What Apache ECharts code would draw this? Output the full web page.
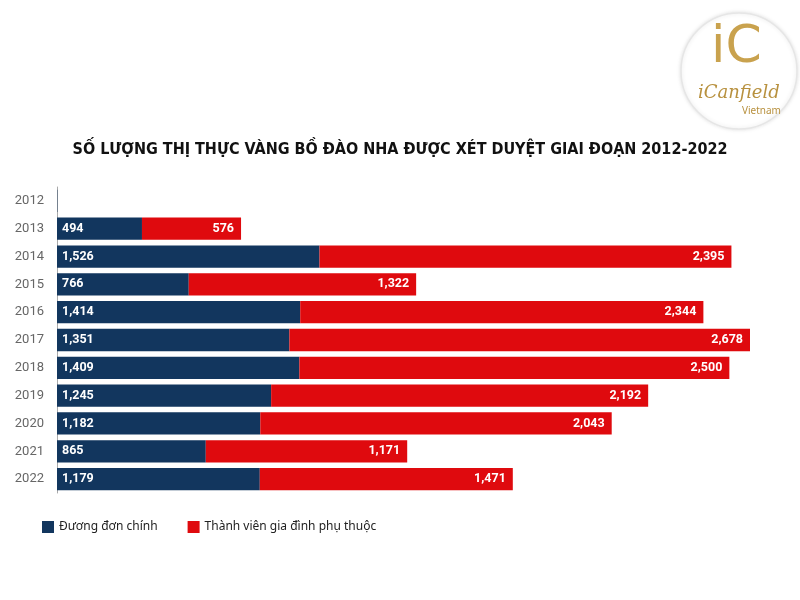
<!DOCTYPE html>
<html><head><meta charset="utf-8">
<script src="https://cdn.jsdelivr.net/npm/echarts@6/dist/echarts.min.js"></script>
<style>html,body{margin:0;padding:0;background:#fff}#c{width:800px;height:600px}</style>
</head><body><div id="c"></div>
<script>
const years = ['2012','2013','2014','2015','2016','2017','2018','2019','2020','2021','2022'];
const mainApplicants = [2, 494, 1526, 766, 1414, 1351, 1409, 1245, 1182, 865, 1179];
const familyMembers = [0, 576, 2395, 1322, 2344, 2678, 2500, 2192, 2043, 1171, 1471];
const seriesNames = ['Đương đơn chính', 'Thành viên gia đình phụ thuộc'];
const titleText = 'SỐ LƯỢNG THỊ THỰC VÀNG BỒ ĐÀO NHA ĐƯỢC XÉT DUYỆT GIAI ĐOẠN 2012-2022';

const fmt = v => v.toLocaleString('en-US');
const chart = echarts.init(document.getElementById('c'));
const labelStyle = {color:'#fff', fontWeight:'bold', fontSize:12.5, fontFamily:'Roboto, sans-serif'};
chart.setOption({
  animation:false,
  title:{text:titleText, left:'center', top:137,
    textStyle:{fontFamily:'"DejaVu Sans Condensed", sans-serif', fontWeight:'bold', fontSize:16, color:'#111'}},
  legend:{left:37, top:516, itemWidth:12, itemHeight:12, itemGap:30, icon:'rect',
    textStyle:{fontFamily:'"Noto Sans", sans-serif', fontSize:12, color:'#222'}},
  grid:{left:57, right:50, top:187, bottom:107},
  xAxis:{type:'value', min:0, max:4029, show:false},
  yAxis:{type:'category', data:years, inverse:true,
    axisLine:{show:true, lineStyle:{color:'#aaa', width:1}}, axisTick:{show:false},
    axisLabel:{color:'#666', fontSize:13, fontFamily:'Roboto, sans-serif', margin:13}},
  series:[
    {name:seriesNames[0], type:'bar', stack:'t', data:mainApplicants, barCategoryGap:'20%',
     itemStyle:{color:'#12365e'},
     label:{show:true, position:'insideLeft', distance:5, ...labelStyle,
       formatter:p=>p.value>50?fmt(p.value):''}},
    {name:seriesNames[1], type:'bar', stack:'t', data:familyMembers,
     itemStyle:{color:'#df0a0e'},
     label:{show:true, position:'insideRight', distance:7, ...labelStyle,
       formatter:p=>p.value>50?fmt(p.value):''}}
  ],
  graphic:[
    {type:'circle', shape:{cx:739, cy:71, r:58}, style:{fill:'#fff', stroke:'#e6e6e6', lineWidth:1.5, shadowBlur:4, shadowColor:'rgba(0,0,0,0.12)'}},
    {type:'text', left:711, top:22, style:{text:'iC', fill:'#c9a24e', font:'52px "DejaVu Sans", sans-serif'}},
    {type:'text', left:698, top:84, style:{text:'iCanfield', fill:'#b8913f', font:'italic 18px "DejaVu Serif", serif'}},
    {type:'text', left:742, top:106, style:{text:'Vietnam', fill:'#b8913f', font:'10px "Noto Sans", sans-serif'}}
  ]
});
</script></body></html>
